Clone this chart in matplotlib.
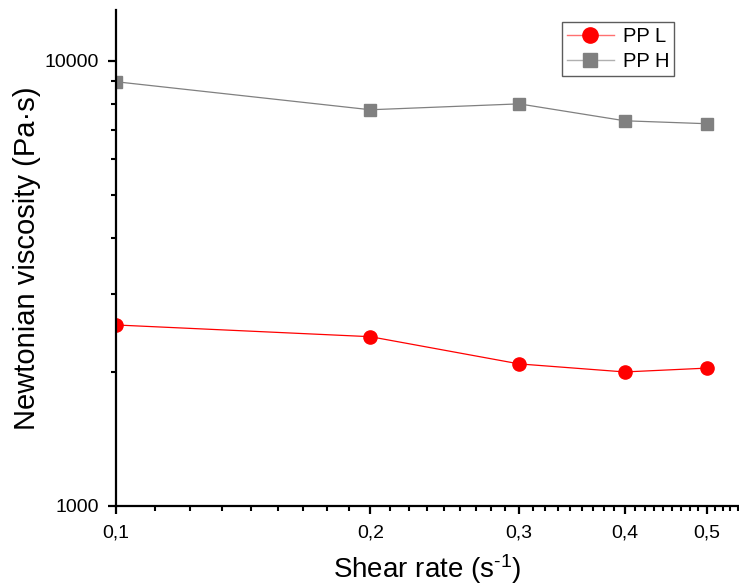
import matplotlib

matplotlib.use('Agg')
import matplotlib.pyplot as plt
import matplotlib.ticker as mticker
import matplotlib.lines as mlines

plt.rcParams['font.family'] = ['Liberation Sans', 'DejaVu Sans']
plt.rcParams['mathtext.fontset'] = 'custom'
plt.rcParams['mathtext.rm'] = 'Liberation Sans'
plt.rcParams['mathtext.default'] = 'regular'

# shear rate (1/s) and Newtonian viscosity (Pa.s)
shear_rate = [0.1, 0.2, 0.3, 0.4, 0.5]
visc_pp_l = [2550, 2400, 2085, 2000, 2040]
visc_pp_h = [8970, 7760, 8000, 7330, 7220]
x_tick_labels = ['0,1', '0,2', '0,3', '0,4', '0,5']

fig = plt.figure(figsize=(7.39, 5.87), dpi=100)
ax = fig.add_axes([0.157, 0.138, 0.842, 0.845])

ax.plot(shear_rate, visc_pp_l, color='red', lw=0.9, marker='o',
        markersize=9.5, label='PP L')
ax.plot(shear_rate, visc_pp_h, color='#808080', lw=0.9, marker='s',
        markersize=8.5, label='PP H')

ax.set_xscale('log')
ax.set_yscale('log')
ax.set_xlim(0.1, 0.545)
ax.set_ylim(1000, 13000)

ax.xaxis.set_major_locator(mticker.FixedLocator(shear_rate))
ax.xaxis.set_major_formatter(mticker.FixedFormatter(x_tick_labels))
# eight minor ticks per step of 0.1
minor_x = []
for i in range(5):
  for k in range(1, 9):
    minor_x.append(round(0.1 * (i + 1) + k * 0.1 / 9, 5))
minor_x = [v for v in minor_x if v < 0.545]
ax.xaxis.set_minor_locator(mticker.FixedLocator(minor_x))
ax.xaxis.set_minor_formatter(mticker.NullFormatter())

ax.yaxis.set_major_locator(mticker.FixedLocator([1000, 10000]))
ax.yaxis.set_major_formatter(mticker.FixedFormatter(['1000', '10000']))
ax.yaxis.set_minor_locator(mticker.FixedLocator(range(2000, 10000, 1000)))
ax.yaxis.set_minor_formatter(mticker.NullFormatter())

for s in ['top', 'right']:
  ax.spines[s].set_visible(False)
for s in ['left', 'bottom']:
  ax.spines[s].set_linewidth(1.6)

ax.tick_params(which='major', direction='out', length=6, width=1.6,
               labelsize=14)
ax.tick_params(axis='x', which='major', pad=7)
ax.tick_params(axis='y', which='major', pad=6)
ax.tick_params(which='minor', direction='out', length=3.5, width=1.5)

ax.set_xlabel(r'Shear rate (s$^{\text{-}1}$)', fontsize=20, labelpad=8)
ax.set_ylabel('Newtonian viscosity (Pa·s)', fontsize=21, labelpad=3)

legend_handles = [
    mlines.Line2D([], [], color='#ff7070', lw=1.0, marker='o',
                  markerfacecolor='red', markeredgecolor='red',
                  markersize=11, label='PP L'),
    mlines.Line2D([], [], color='#b0b0b0', lw=1.0, marker='s',
                  markerfacecolor='#808080', markeredgecolor='#808080',
                  markersize=9.5, label='PP H'),
]
leg = ax.legend(handles=legend_handles, loc='upper left',
                bbox_to_anchor=(0.717, 0.976), fontsize=14.5, frameon=True,
                fancybox=False, handlelength=2.3, handletextpad=0.45,
                borderpad=0.25, labelspacing=0.3, borderaxespad=0)
leg.get_frame().set_edgecolor('#333333')
leg.get_frame().set_linewidth(1.0)

plt.savefig('out.png', dpi=100)
plt.close()
